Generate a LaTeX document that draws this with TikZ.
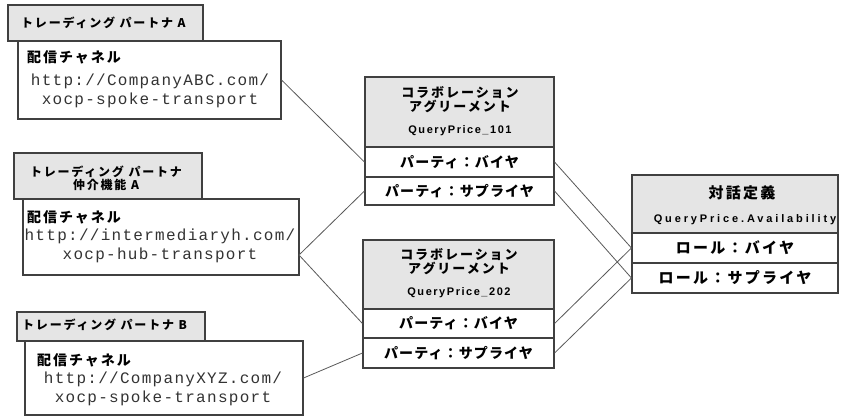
\documentclass[tikz,border=0pt]{standalone}
\usepackage{fontspec}
\setmainfont{Liberation Sans}
\newfontfamily\jpsmall[LetterSpace=15]{Noto Sans CJK JP}
\newfontfamily\jpmid[LetterSpace=14]{Noto Sans CJK JP}
\newfontfamily\jpca[LetterSpace=15]{Noto Sans CJK JP}
\newfontfamily\jprow[LetterSpace=8]{Noto Sans CJK JP}
\newfontfamily\jpdlg[LetterSpace=15]{Noto Sans CJK JP}
\newfontfamily\qpA[LetterSpace=14]{Liberation Sans}
\newfontfamily\qpB[LetterSpace=26]{Liberation Sans}
\newfontfamily\urlf[LetterSpace=8]{Liberation Mono}
\usetikzlibrary{fit}
\tikzset{
  box/.style={draw=black!75, line width=1.1pt, fill=white, inner sep=0pt},
  hdr/.style={box, fill=black!10},
  conn/.style={draw=black!65, line width=0.8pt},
  jsmall/.style={font=\jpsmall\bfseries\fontsize{12}{13}\selectfont, inner sep=0pt},
  jmid/.style={font=\jpmid\bfseries\fontsize{14}{15}\selectfont, inner sep=0pt},
  jca/.style={font=\jpca\bfseries\fontsize{13}{14}\selectfont, inner sep=0pt, align=center},
  jrow/.style={font=\jprow\bfseries\fontsize{14}{15}\selectfont},
  jdlg/.style={font=\jpdlg\bfseries\fontsize{15}{15}\selectfont, inner sep=0pt},
  qpa/.style={font=\qpA\bfseries\fontsize{11}{13}\selectfont, inner sep=0pt},
  qpb/.style={font=\qpB\bfseries\fontsize{11}{13}\selectfont, inner sep=0pt},
  urltext/.style={font=\urlf\fontsize{16}{19}\selectfont, text=black!80, inner sep=0pt, align=center},
}
\begin{document}
\begin{tikzpicture}[x=1pt,y=-1pt]
\fill[white] (0,0) rectangle (847,416);
\useasboundingbox (0,0) rectangle (847,416);

% Trading partner A
\node[hdr, fit={(8,5) (203,41)}] (hA) {};
\node[box, fit={(18,41) (281,119)}] (bA) {};
\node[jsmall, anchor=west] (tA) at (21,23) {トレーディング パートナ A};
\node[jmid, anchor=west] (cA) at (27,57) {配信チャネル};
\node[urltext] (uA) at (150,90.5) {http://CompanyABC.com/\\xocp-spoke-transport};

% Intermediary
\node[hdr, fit={(14,153) (202,199)}] (hI) {};
\node[box, fit={(23,199) (299,275)}] (bI) {};
\node[jsmall, align=center] (tI) at (106,178.5) {トレーディング パートナ\\仲介機能 A};
\node[jmid, anchor=west] (cI) at (27,217) {配信チャネル};
\node[urltext] (uI) at (160,246) {http://intermediaryh.com/\\xocp-hub-transport};
\coordinate (pI) at (299,255);

% Trading partner B
\node[hdr, fit={(17,312) (205,341)}] (hB) {};
\node[box, fit={(25,341) (303,415)}] (bB) {};
\node[jsmall, anchor=west] (tB) at (22,325) {トレーディング パートナ B};
\node[jmid, anchor=west] (cB) at (37,360) {配信チャネル};
\node[urltext] (uB) at (163,388.5) {http://CompanyXYZ.com/\\xocp-spoke-transport};

% Collaboration agreement 101
\node[hdr, fit={(365,77) (554,147)}] (h1) {};
\node[box, fit={(365,147) (554,177)}] (c1b) {};
\node[box, fit={(365,177) (554,205)}] (c1s) {};
\node[jca] (t1) at (460,100) {コラボレーション\\アグリーメント};
\node[qpa] (q1) at (460,131) {QueryPrice\_101};
\node[jrow] at (c1b.center) {パーティ：バイヤ};
\node[jrow] at (c1s.center) {パーティ：サプライヤ};

% Collaboration agreement 202
\node[hdr, fit={(363,240) (554,309)}] (h2) {};
\node[box, fit={(363,309) (554,338)}] (c2b) {};
\node[box, fit={(363,338) (554,368)}] (c2s) {};
\node[jca] (t2) at (459,261.5) {コラボレーション\\アグリーメント};
\node[qpa] (q2) at (459,293) {QueryPrice\_202};
\node[jrow] at (c2b.center) {パーティ：バイヤ};
\node[jrow] at (c2s.center) {パーティ：サプライヤ};

% Dialog definition
\node[hdr, fit={(632,175) (838,233)}] (hd) {};
\node[box, fit={(632,233) (838,263)}] (dB) {};
\node[box, fit={(632,263) (838,293)}] (dS) {};
\node[jdlg] (td) at (742,193) {対話定義};
\node[qpb] (qd) at (745,220) {QueryPrice.Availability};
\node[jdlg] at (dB.center) {ロール：バイヤ};
\node[jdlg] at (dS.center) {ロール：サプライヤ};

% connectors
\draw[conn] (bA.east) -- (c1b.west);
\draw[conn] (pI) -- (c1s.west);
\draw[conn] (pI) -- (c2b.west);
\draw[conn] (bB.east) -- (c2s.west);
\draw[conn] (c1b.east) -- (dB.west);
\draw[conn] (c2b.east) -- (dB.west);
\draw[conn] (c1s.east) -- (dS.west);
\draw[conn] (c2s.east) -- (dS.west);
\end{tikzpicture}
\end{document}
